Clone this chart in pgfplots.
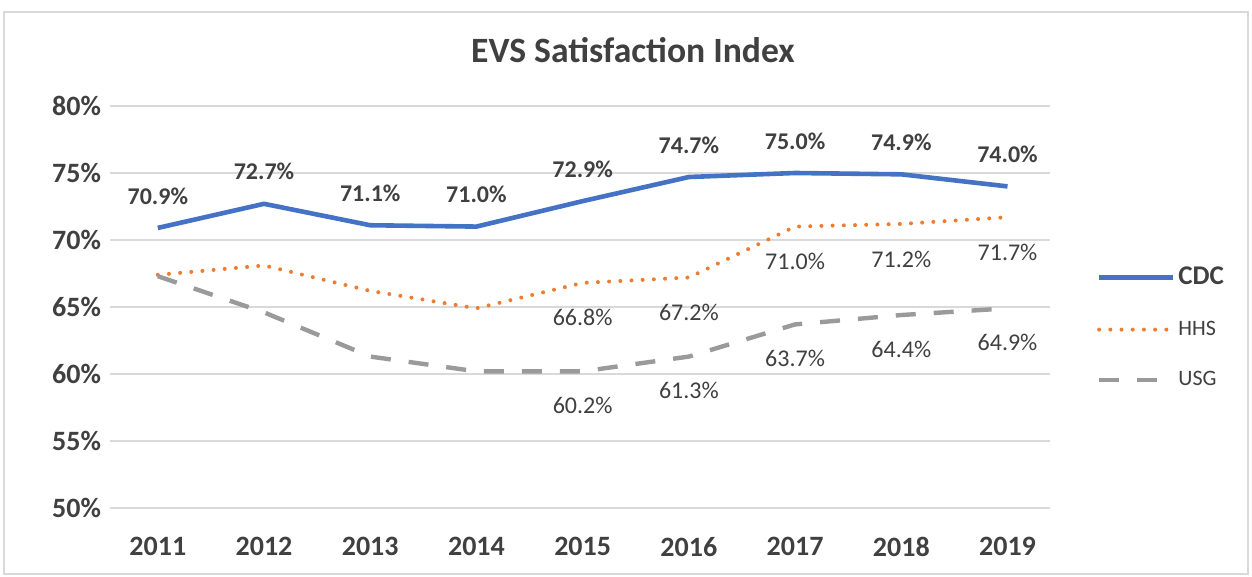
\documentclass[border=0pt]{standalone}
\usepackage{fontspec}
\setmainfont{Carlito}
\usepackage{pgfplots}
\pgfplotsset{compat=1.18}
\definecolor{cdc}{HTML}{4472C4}
\definecolor{hhs}{HTML}{ED7D31}
\definecolor{usg}{HTML}{9A9A9A}
\definecolor{txt}{HTML}{404040}
\definecolor{gridc}{HTML}{D9D9D9}
\begin{document}
\begin{tikzpicture}
\path[use as bounding box] (0,0) rectangle (626pt,288.5pt);
\draw[gridc, line width=0.8pt] (2pt,1.5pt) rectangle (624pt,282.5pt);
\node[font=\bfseries\fontsize{17.8}{21}\selectfont, text=txt] at (316.5pt,263.5pt) {EVS Satisfaction Index};
\begin{axis}[
  at={(55pt,34.5pt)}, anchor=south west,
  width=470pt, height=201pt, scale only axis,
  xmin=2010.55, xmax=2019.4,
  ymin=50, ymax=80,
  xtick={2011,2012,2013,2014,2015,2016,2017,2018,2019},
  xticklabels={2011,2012,2013,2014,2015,2016,2017,2018,2019},
  ytick={50,55,60,65,70,75,80},
  yticklabel={\pgfmathprintnumber{\tick}\%},
  /pgf/number format/assume math mode=true,
  ticklabel style={font=\bfseries\fontsize{14}{16}\selectfont, text=txt},
  xticklabel style={yshift=-11pt},
  yticklabel style={xshift=-1pt},
  major tick length=0pt,
  axis line style={draw=none},
  ymajorgrids, xmajorgrids=false, grid style={gridc, line width=0.8pt},
  clip=false,
  point meta=explicit symbolic,
  legend image code/.code={\draw[#1] (0pt,0pt) -- (37pt,0pt);},
  legend style={at={(1.043,0.448)}, anchor=west, draw=none, fill=none,
    row sep=13.5pt, text=txt, nodes={inner sep=1.5pt}},
  legend cell align=left,
]
\addplot[cdc, line width=2.3pt, line join=round,
  nodes near coords,
  every node near coord/.append style={anchor=center, yshift=16pt,
    font=\bfseries\fontsize{12}{14}\selectfont, text=txt}]
  coordinates {
  (2011,70.9)[70.9\%] (2012,72.7)[72.7\%] (2013,71.1)[71.1\%]
  (2014,71.0)[71.0\%] (2015,72.9)[72.9\%] (2016,74.7)[74.7\%]
  (2017,75.0)[75.0\%] (2018,74.9)[74.9\%] (2019,74.0)[74.0\%]
  };
\addlegendentry{\bfseries\fontsize{13.5}{15}\selectfont CDC}
\addplot[hhs, line width=2pt, line cap=round, dash pattern=on 0pt off 5.6pt,
  nodes near coords,
  every node near coord/.append style={anchor=center, yshift=-17.5pt,
    font=\fontsize{12}{14}\selectfont, text=txt, solid}]
  coordinates {
  (2011,67.4)[] (2012,68.1)[] (2013,66.2)[] (2014,64.9)[]
  (2015,66.8)[66.8\%] (2016,67.2)[67.2\%] (2017,71.0)[71.0\%]
  (2018,71.2)[71.2\%] (2019,71.7)[71.7\%]
  };
\addlegendentry{\fontsize{11}{13}\selectfont HHS}
\addplot[usg, line width=2.2pt, dash pattern=on 10pt off 9pt,
  nodes near coords,
  every node near coord/.append style={anchor=center, yshift=-17pt,
    font=\fontsize{12}{14}\selectfont, text=txt, solid}]
  coordinates {
  (2011,67.3)[] (2012,64.6)[] (2013,61.3)[] (2014,60.2)[]
  (2015,60.2)[60.2\%] (2016,61.3)[61.3\%] (2017,63.7)[63.7\%]
  (2018,64.4)[64.4\%] (2019,64.9)[64.9\%]
  };
\addlegendentry{\fontsize{11}{13}\selectfont USG}
\end{axis}
\end{tikzpicture}
\end{document}
